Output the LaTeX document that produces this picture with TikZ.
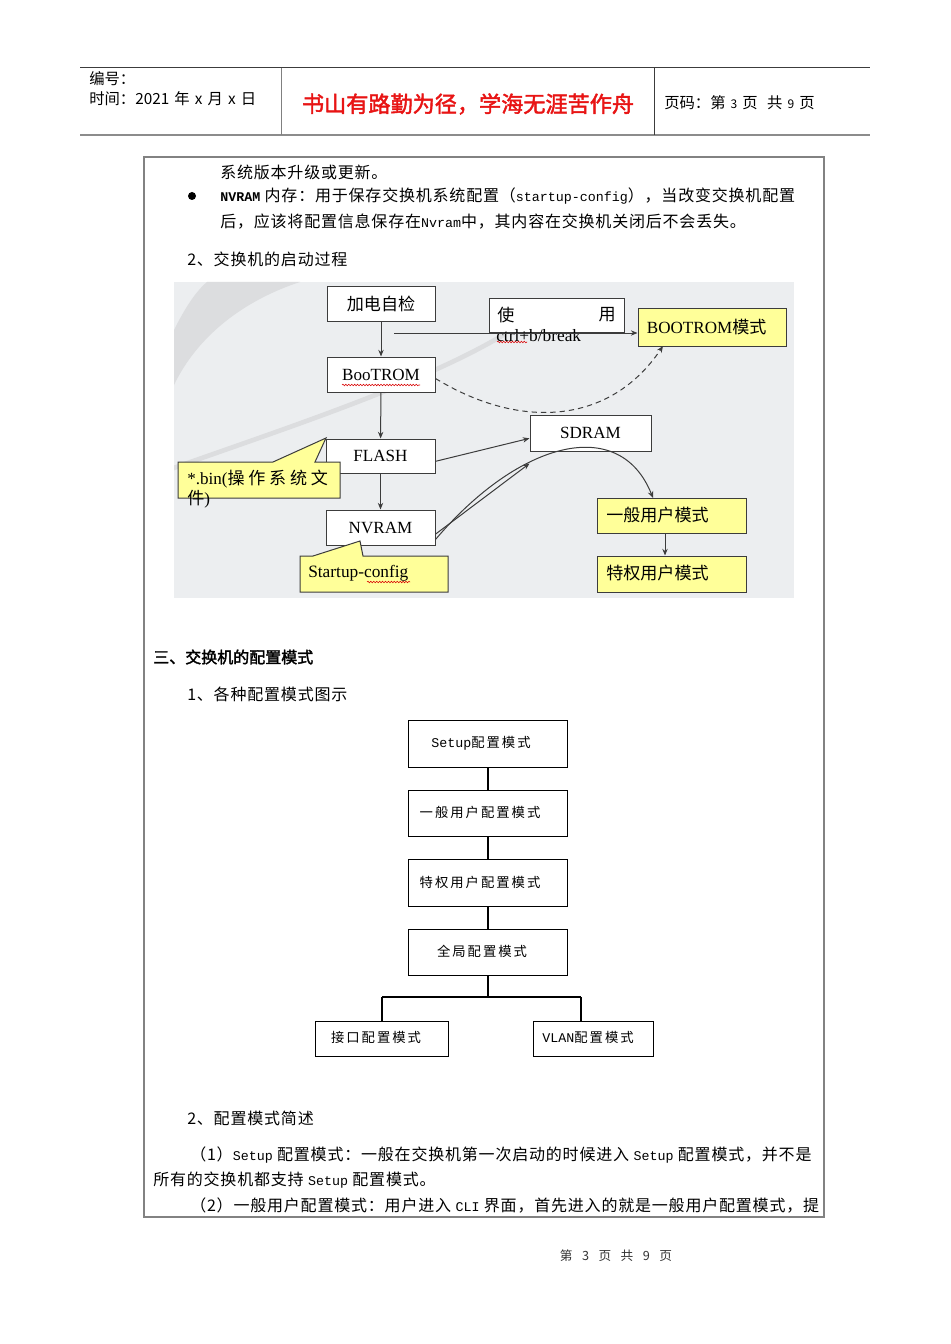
\documentclass[tikz,border=0pt]{standalone}
\usepackage{fontspec}
\setmainfont{Liberation Serif}
\newfontfamily\cjk{Noto Sans CJK SC}
\newfontfamily\cjkbody[LetterSpace=5]{Noto Sans CJK SC}
\newfontfamily\cjkb[FakeBold=2]{Noto Sans CJK SC}
\newfontfamily\cjkls[LetterSpace=15]{Noto Sans CJK SC}
\newfontfamily\cjkwide[LetterSpace=22]{Noto Sans CJK SC}
\newfontfamily\mono{Liberation Mono}
\usetikzlibrary{arrows.meta,fit,decorations.pathmorphing}
\definecolor{bgdiag}{RGB}{236,238,240}
\definecolor{swoosh}{RGB}{220,221,223}
\definecolor{callout}{RGB}{255,255,153}
\definecolor{framegray}{RGB}{130,130,130}
\definecolor{titlered}{RGB}{232,20,20}
\definecolor{lineg}{RGB}{60,60,60}
\newcommand\lat[1]{{\mono\fontsize{10pt}{12pt}\selectfont #1}}
\newcommand\latb[1]{{\mono\bfseries\fontsize{10pt}{12pt}\selectfont #1}}
\newcommand\fbody{\cjkbody\fontsize{12pt}{14pt}\selectfont}
\newcommand\fdiag{\rmfamily\fontsize{12.8pt}{15pt}\selectfont}
\newcommand\fdcjk{\cjk\fontsize{12.8pt}{15pt}\selectfont}
\newcommand\fconf{\cjkls\fontsize{10pt}{12pt}\selectfont}
\tikzset{
  txt/.style={anchor=west,inner sep=0pt,font=\fbody},
  dbox/.style={draw=lineg,fill=white,inner sep=0pt,line width=0.75pt},
  ybox/.style={draw=lineg,fill=callout,inner sep=0pt,line width=0.75pt},
  cbox/.style={draw=black,fill=white,inner sep=0pt,line width=0.75pt},
  lbl/.style={inner sep=0pt},
  arr/.style={draw=lineg,line width=0.75pt,-{Stealth[length=5pt,width=4pt]}},
  thickc/.style={draw=black,line width=2pt},
  wavy/.style={draw=red!85!black,line width=0.4pt,decorate,decoration={snake,amplitude=0.6pt,segment length=2.2pt}},
  callshape/.style={draw=lineg,fill=callout,line width=0.75pt},
}
\begin{document}
\begin{tikzpicture}[x=0.75pt,y=-0.75pt]
\useasboundingbox (0,0) rectangle (950,1344);
\fill[white] (0,0) rectangle (950,1344);

% ---------- header ----------
\draw[lineg,line width=0.75pt] (80,68) -- (870,68);
\draw[black!45,line width=1.6pt] (80,135) -- (870,135);
\draw[black!50,line width=0.75pt] (281,68) -- (281,135);
\draw[lineg,line width=0.75pt] (654,68) -- (654,135);
\node[txt,font=\cjk\fontsize{11.5pt}{13pt}\selectfont] (hno) at (89,79) {编号：};
\node[txt,font=\cjk\fontsize{11.5pt}{13pt}\selectfont] (htime) at (89,99) {时间：2021\,\,年\,\,x\,\,月\,\,x\,\,日};
\node[inner sep=0pt,font=\cjkb\fontsize{16.6pt}{19pt}\selectfont,text=titlered] (htitle) at (468,104) {书山有路勤为径，学海无涯苦作舟};
\node[txt,font=\cjk\fontsize{11.5pt}{13pt}\selectfont] (hpage) at (664,103) {页码：第\,\,{\fontsize{9pt}{11pt}\selectfont 3}\,\,页 \ \,共\,\,{\fontsize{9pt}{11pt}\selectfont 9}\,\,页};

% ---------- main frame ----------
\draw[framegray,line width=0.9pt] (144,157) rectangle (824,1217);

% ---------- top text ----------
\node[txt] (l1) at (220,172) {系统版本升级或更新。};
\node[circle,fill=black,inner sep=0pt,minimum size=6pt] (bul) at (192,196) {};
\node[txt] (l2) at (220,196) {\latb{NVRAM} 内存：用于保存交换机系统配置（\lat{startup-config}），当改变交换机配置};
\node[txt] (l3) at (220,222) {后，应该将配置信息保存在\lat{Nvram}中，其内容在交换机关闭后不会丢失。};
\node[txt] (l4) at (187,259) {2、交换机的启动过程};

% ---------- boot diagram ----------
\fill[bgdiag] (174,282) rectangle (794,598);
\begin{scope}
\clip (174,282) rectangle (794,598);
\fill[swoosh] (207,282) -- (300,282) .. controls (245,300) and (198,335) .. (174,385)
   -- (174,330) .. controls (184,310) and (195,292) .. (207,282) -- cycle;
\draw[swoosh,line width=3.5pt] (168,470) .. controls (280,430) and (420,385) .. (505,334);
\end{scope}

\node[dbox,fit={(327,287) (435,321)}] (pwr) {};
\node[lbl,font=\fdcjk] (pwrt) at (pwr.center) {加电自检};
\node[dbox,fit={(489,299) (624,332)}] (ctrl) {};
\node[anchor=west,inner sep=0pt,font=\fdcjk] (shi) at (497,315) {使};
\node[anchor=east,inner sep=0pt,font=\fdcjk] (yong) at (616,315) {用};
\node[anchor=west,inner sep=0pt,font=\rmfamily\fontsize{13pt}{15pt}\selectfont] (ctrlt) at (496,336) {ctrl+b/break};
\node[ybox,fit={(638,309) (786,346)}] (bootm) {};
\node[lbl,font=\fdiag] (bootmt) at ([xshift=-4]bootm.center) {BOOTROM{\fdcjk 模式}};
\node[dbox,fit={(327,357) (435,392)}] (boot) {};
\node[lbl,font=\fdiag] (boott) at (boot.center) {BooTROM};
\node[dbox,fit={(326,439) (435,473)}] (flash) {};
\node[lbl,font=\fdiag] (flasht) at (flash.center) {FLASH};
\node[dbox,fit={(326,510) (435,545)}] (nvram) {};
\node[lbl,font=\fdiag] (nvramt) at (nvram.center) {NVRAM};
\node[dbox,fit={(530,415) (651,451)}] (sdram) {};
\node[lbl,font=\fdiag] (sdramt) at (sdram.center) {SDRAM};
\node[ybox,fit={(597,498) (746,533)}] (gen) {};
\node[anchor=west,inner sep=0pt,font=\fdcjk] (gent) at (606,515) {一般用户模式};
\node[ybox,fit={(597,556) (746,592)}] (priv) {};
\node[anchor=west,inner sep=0pt,font=\fdcjk] (privt) at (606,573) {特权用户模式};

% callouts
\path[callshape] (178,462) -- (273,462) -- (326,438) -- (315,462) -- (340,462) -- (340,498) -- (178,498) -- cycle;
\node[anchor=west,inner sep=0pt,font=\fdiag] (bin1) at (187,479) {*.bin({\cjkwide\fontsize{12.8pt}{15pt}\selectfont 操作系统文}};
\node[anchor=west,inner sep=0pt,font=\fdiag] (bin2) at (187,499) {{\fdcjk 件})};
\path[callshape] (300,556) -- (313,556) -- (360,541) -- (363,556) -- (448,556) -- (448,592) -- (300,592) -- cycle;
\node[anchor=west,inner sep=0pt,font=\rmfamily\fontsize{13pt}{15pt}\selectfont] (startup) at (308,573) {Startup-config};

% spell-check marks
\draw[wavy] (342,385) -- (420,385);
\draw[wavy] (497,342) -- (527,342);
\draw[wavy] (367,582) -- (410,582);

% connectors
\coordinate (cstart) at (394,333);
\coordinate (bmin) at (663,346);
\coordinate (genin) at (653,498);
\draw[arr] (pwr) -- (boot);
\draw[arr] (boot) -- (flash);
\draw[arr] (flash) -- (nvram);
\draw[arr] (cstart) -- (cstart -| bootm.west);
\draw[arr,dashed,dash pattern=on 4pt off 3pt] ([yshift=-3]boot.east) .. controls (520,430) and (610,425) .. (bmin);
\draw[arr] ([yshift=-4]flash.east) -- ([yshift=-4]sdram.west);
\draw[arr] ([yshift=-5]nvram.east) -- ([yshift=-9]sdram.south west);
\draw[arr] ([yshift=-9]nvram.east) .. controls (520,440) and (620,415) .. (genin);
\draw[arr] (gen.south -| 665,0) -- (priv.north -| 665,0);

% ---------- section 3 ----------
\node[txt,font=\cjkb\fontsize{12pt}{14pt}\selectfont] (s3) at (153,657) {三、交换机的配置模式};
\node[txt] (s31) at (187,694) {1、各种配置模式图示};

\node[cbox,fit={(408,720) (567,767)}] (setup) {};
\node[lbl,font=\fconf] (setupt) at (481,743) {\lat{Setup}配置模式};
\node[cbox,fit={(408,790) (567,836)}] (gen2) {};
\node[lbl,font=\fconf] (gen2t) at (480,812) {一般用户配置模式};
\node[cbox,fit={(408,859) (567,906)}] (priv2) {};
\node[lbl,font=\fconf] (priv2t) at (480,882) {特权用户配置模式};
\node[cbox,fit={(408,929) (567,975)}] (glob) {};
\node[lbl,font=\fconf] (globt) at (482,951) {全局配置模式};
\node[cbox,fit={(315,1021) (448,1056)}] (intf) {};
\node[lbl,font=\fconf] (intft) at (376,1037) {接口配置模式};
\node[cbox,fit={(533,1021) (653,1056)}] (vlan) {};
\node[lbl,font=\fconf] (vlant) at (588,1037) {\lat{VLAN}配置模式};

\coordinate (bc) at (488,997);
\coordinate (bl) at (382,997);
\coordinate (br) at (581,997);
\draw[thickc] (setup.south -| bc) -- (gen2.north -| bc);
\draw[thickc] (gen2.south -| bc) -- (priv2.north -| bc);
\draw[thickc] (priv2.south -| bc) -- (glob.north -| bc);
\draw[thickc] (glob.south -| bc) -- (bc);
\draw[black,line width=0.8pt] (bl) -- (br);
\draw[black,line width=1.1pt] (bl) -- (bl |- intf.north);
\draw[thickc] (br) -- (br |- vlan.north);

% ---------- bottom text ----------
\node[txt] (s32) at (187,1118) {2、配置模式简述};
\node[txt] (p1) at (190,1155) {（1）\lat{Setup} 配置模式：一般在交换机第一次启动的时候进入 \lat{Setup} 配置模式，并不是};
\node[txt] (p2) at (153,1180) {所有的交换机都支持 \lat{Setup} 配置模式。};
\node[txt] (p3) at (190,1205) {（2）一般用户配置模式：用户进入 \lat{CLI} 界面，首先进入的就是一般用户配置模式，提};

% ---------- footer ----------
\node[inner sep=0pt,font=\cjkls\fontsize{9.5pt}{11pt}\selectfont,text=black!80] (foot) at (616,1256) {第 \ 3 \ 页 \ 共 \ 9 \ 页};
\end{tikzpicture}
\end{document}
